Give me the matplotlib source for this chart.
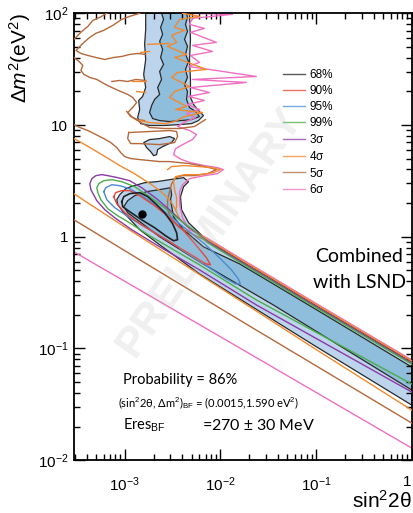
import numpy as np
import matplotlib
matplotlib.use('Agg')
import matplotlib.pyplot as plt

plt.rcParams['font.family'] = ['Liberation Sans', 'DejaVu Sans']
plt.rcParams['mathtext.fontset'] = 'custom'
plt.rcParams['mathtext.rm'] = 'Liberation Sans'
plt.rcParams['mathtext.it'] = 'Liberation Sans:italic'
plt.rcParams['mathtext.bf'] = 'Liberation Sans:bold'

# all contours are lists of (log10 sin^2 2theta, log10 dm^2)
fill_outer_band = [(-3.083, 0.332), (-3.052, 0.377), (-2.990, 0.430), (-2.938, 0.448), (-2.792, 0.484),
                   (-2.667, 0.493), (-2.531, 0.511), (-2.385, 0.529), (-2.333, 0.493), (-2.385, 0.448),
                   (-2.417, 0.359), (-2.406, 0.242), (-2.333, 0.126), (-2.146, -0.027), (-1.802, -0.206),
                   (-1.448, -0.386), (-1.010, -0.610), (0.0, -1.121), (0.0, -1.507), (-1.010, -0.978),
                   (-1.448, -0.744), (-2.219, -0.332), (-2.635, -0.072), (-2.844, 0.063), (-3.010, 0.215),
                   (-3.073, 0.287)]
fill_inner_band = [(-3.010, 0.269), (-2.969, 0.323), (-2.896, 0.368), (-2.771, 0.404), (-2.635, 0.422),
                   (-2.521, 0.439), (-2.510, 0.377), (-2.521, 0.332), (-2.490, 0.179), (-2.385, 0.063),
                   (-2.177, -0.090), (-1.802, -0.242), (-1.448, -0.422), (-1.010, -0.646), (0.0, -1.166),
                   (0.0, -1.372), (-1.448, -0.610), (-2.219, -0.224), (-2.635, 0.0), (-2.844, 0.135),
                   (-2.969, 0.215)]
fill_outer_strip = [(-2.781, 2.0), (-2.781, 1.857), (-2.792, 1.722), (-2.781, 1.587), (-2.802, 1.453),
                    (-2.781, 1.336), (-2.813, 1.256), (-2.854, 1.220), (-2.844, 1.139), (-2.865, 1.067),
                    (-2.833, 1.013), (-2.740, 0.996), (-2.583, 0.996), (-2.427, 1.004), (-2.302, 1.013),
                    (-2.229, 1.040), (-2.177, 1.085), (-2.229, 1.130), (-2.281, 1.184), (-2.313, 1.247),
                    (-2.313, 1.408), (-2.323, 1.587), (-2.313, 1.767), (-2.323, 2.0)]
fill_inner_strip = [(-2.615, 2.0), (-2.594, 1.946), (-2.625, 1.874), (-2.604, 1.812), (-2.635, 1.749),
                    (-2.604, 1.677), (-2.625, 1.605), (-2.594, 1.543), (-2.635, 1.480), (-2.615, 1.408),
                    (-2.656, 1.336), (-2.635, 1.274), (-2.688, 1.229), (-2.719, 1.175), (-2.740, 1.112),
                    (-2.708, 1.058), (-2.635, 1.040), (-2.531, 1.031), (-2.406, 1.040), (-2.302, 1.049),
                    (-2.219, 1.076), (-2.260, 1.121), (-2.323, 1.157), (-2.354, 1.229), (-2.344, 1.300),
                    (-2.375, 1.363), (-2.344, 1.426), (-2.365, 1.498), (-2.333, 1.570), (-2.365, 1.632),
                    (-2.344, 1.704), (-2.375, 1.767), (-2.344, 1.839), (-2.365, 1.901), (-2.344, 1.964),
                    (-2.354, 2.0)]
fill_blob = [(-2.802, 0.843), (-2.740, 0.870), (-2.635, 0.879), (-2.531, 0.897), (-2.479, 0.879),
             (-2.510, 0.843), (-2.604, 0.807), (-2.656, 0.780), (-2.667, 0.735), (-2.698, 0.726),
             (-2.729, 0.762), (-2.771, 0.798)]

cl68 = [(-3.031, 0.314), (-3.010, 0.359), (-2.948, 0.386), (-2.844, 0.395), (-2.760, 0.359),
        (-2.677, 0.296), (-2.583, 0.215), (-2.500, 0.117), (-2.458, 0.036), (-2.448, -0.027),
        (-2.490, -0.036), (-2.573, 0.009), (-2.688, 0.081), (-2.823, 0.152), (-2.948, 0.224),
        (-3.021, 0.269), (-3.031, 0.314)]
cl90 = [(-3.115, 0.359), (-3.094, 0.395), (-3.031, 0.413), (-2.948, 0.413), (-2.844, 0.368),
        (-2.688, 0.278), (-2.531, 0.170), (-2.375, 0.045), (-2.240, -0.090), (-2.146, -0.188),
        (-2.104, -0.251), (-2.156, -0.242), (-2.271, -0.179), (-2.427, -0.099), (-2.635, 0.009),
        (-2.844, 0.117), (-3.000, 0.215), (-3.083, 0.296), (-3.115, 0.359)]
cl95 = [(-3.219, 0.404), (-3.198, 0.439), (-3.135, 0.466), (-3.052, 0.457), (-2.948, 0.430),
        (-2.792, 0.350), (-2.635, 0.260), (-2.479, 0.152), (-2.323, 0.045), (-2.167, -0.063),
        (-2.010, -0.188), (-1.885, -0.296), (-1.813, -0.377), (-1.792, -0.422), (-1.844, -0.422),
        (-1.958, -0.368), (-2.115, -0.278), (-2.323, -0.161), (-2.531, -0.045), (-2.740, 0.063),
        (-2.948, 0.170), (-3.104, 0.260), (-3.188, 0.332), (-3.219, 0.404)]
cl99 = [(0.0, -1.141), (-1.010, -0.630), (-1.448, -0.406), (-1.802, -0.226), (-2.146, -0.047),
        (-2.271, 0.054), (-2.427, 0.152), (-2.583, 0.260), (-2.740, 0.359), (-2.896, 0.448),
        (-3.031, 0.493), (-3.135, 0.511), (-3.219, 0.502), (-3.271, 0.475), (-3.292, 0.439),
        (-3.281, 0.395), (-3.250, 0.332), (-3.177, 0.251), (-3.073, 0.188), (-2.969, 0.135),
        (-2.740, 0.009), (-2.219, -0.251), (-1.625, -0.565), (0.0, -1.318)]
sig3 = [(0.0, -1.131), (-1.010, -0.620), (-1.448, -0.396), (-1.802, -0.216), (-2.146, -0.037),
        (-2.219, 0.018), (-2.354, 0.099), (-2.510, 0.224), (-2.667, 0.341), (-2.823, 0.439),
        (-2.948, 0.502), (-3.073, 0.529), (-3.177, 0.547), (-3.240, 0.556), (-3.302, 0.547),
        (-3.344, 0.520), (-3.365, 0.475), (-3.354, 0.422), (-3.292, 0.323), (-3.208, 0.242),
        (-3.104, 0.170), (-2.927, 0.063), (-2.635, -0.090), (-2.219, -0.296), (-1.625, -0.610),
        (0.0, -1.390)]

sig4_lower = [(-3.531, 0.386), (-3.438, 0.332), (-3.260, 0.233), (-3.052, 0.117), (-2.740, -0.054),
              (-2.427, -0.224), (-1.906, -0.511), (-1.448, -0.762), (-1.010, -1.004), (0.0, -1.552)]
sig4_upper = [(-3.531, 0.879), (-3.417, 0.825), (-3.292, 0.762), (-3.188, 0.709), (-3.052, 0.637),
              (-2.917, 0.574), (-2.833, 0.529), (-2.719, 0.466), (-2.635, 0.413), (-2.563, 0.359),
              (-2.510, 0.305), (-2.469, 0.242), (-2.427, 0.161), (-2.344, 0.090), (-2.146, -0.018),
              (-1.802, -0.197), (-1.448, -0.377), (-1.010, -0.601), (0.0, -1.112)]
sig4_tongue = [(-2.552, 0.601), (-2.510, 0.628), (-2.375, 0.637), (-2.219, 0.628), (-2.094, 0.619),
               (-2.000, 0.601), (-2.073, 0.574), (-2.219, 0.556), (-2.375, 0.556), (-2.469, 0.538),
               (-2.490, 0.493), (-2.479, 0.422), (-2.458, 0.350), (-2.458, 0.269), (-2.469, 0.233)]
sig4_strip = [(-2.396, 2.0), (-2.219, 1.973), (-2.427, 1.946), (-2.479, 1.874), (-2.375, 1.848),
              (-2.510, 1.803), (-2.458, 1.740), (-2.552, 1.704), (-2.354, 1.632), (-2.479, 1.605),
              (-2.146, 1.498), (-2.448, 1.471), (-2.510, 1.426), (-2.323, 1.345), (-2.479, 1.300),
              (-2.531, 1.247), (-2.354, 1.166), (-2.469, 1.139), (-2.188, 1.112), (-2.375, 1.076),
              (-2.479, 1.031), (-2.583, 1.013), (-2.740, 1.022), (-2.844, 1.040)]
sig4_bits = [[(-2.927, 1.390), (-2.781, 1.390)],
             [(-2.875, 1.300), (-2.781, 1.291)],
             [(-2.833, 1.650), (-2.740, 1.659)],
             [(-2.760, 1.722), (-2.531, 1.731)]]

sig5_lower = [(-3.531, 0.152), (-2.740, -0.260), (-1.698, -0.798), (0.0, -1.668)]
sig5_upper = [(-3.531, 1.004), (-3.469, 0.978), (-3.385, 0.951), (-3.302, 0.915), (-3.219, 0.879),
              (-3.146, 0.843), (-3.083, 0.798), (-3.042, 0.753), (-3.000, 0.717), (-2.938, 0.700),
              (-2.844, 0.691), (-2.740, 0.682), (-2.635, 0.673), (-2.531, 0.673), (-2.427, 0.664),
              (-2.323, 0.655), (-2.219, 0.637), (-2.115, 0.619), (-2.042, 0.601), (-2.135, 0.565),
              (-2.271, 0.547), (-2.396, 0.547), (-2.469, 0.529), (-2.510, 0.475), (-2.531, 0.404),
              (-2.552, 0.332), (-2.552, 0.242), (-2.510, 0.152), (-2.427, 0.081), (-2.323, 0.036),
              (-2.146, -0.036), (-1.802, -0.215), (-1.448, -0.395), (-1.010, -0.619), (0.0, -1.130)]
sig5_loop = [(-2.958, 0.933), (-2.740, 0.942), (-2.531, 0.951), (-2.458, 0.942), (-2.448, 0.897),
             (-2.479, 0.843), (-2.635, 0.825), (-2.844, 0.834), (-2.938, 0.834), (-2.969, 0.879),
             (-2.958, 0.933)]
sig5_strip = [(-2.979, 1.121), (-2.917, 1.067), (-2.833, 1.022), (-2.740, 0.978), (-2.583, 0.969),
              (-2.427, 0.969), (-2.271, 0.987), (-2.156, 1.049)]
sig5_topleft = [
    [(-3.188, 2.0), (-3.260, 1.964), (-3.333, 1.937), (-3.385, 1.883), (-3.448, 1.839),
     (-3.490, 1.803), (-3.531, 1.767)],
    [(-2.844, 2.0), (-2.948, 1.973), (-3.031, 1.946), (-3.125, 1.892), (-3.219, 1.848),
     (-3.302, 1.821), (-3.365, 1.785), (-3.427, 1.740), (-3.479, 1.695), (-3.510, 1.668),
     (-3.458, 1.641), (-3.385, 1.623), (-3.302, 1.605), (-3.208, 1.587), (-3.115, 1.605),
     (-3.031, 1.614), (-2.948, 1.632), (-2.865, 1.641), (-2.781, 1.632)],
    [(-3.531, 1.605), (-3.479, 1.570), (-3.438, 1.534), (-3.458, 1.489), (-3.427, 1.453),
     (-3.365, 1.426), (-3.292, 1.408), (-3.219, 1.372), (-3.135, 1.336), (-3.042, 1.300),
     (-2.969, 1.274), (-2.917, 1.247), (-2.875, 1.202), (-2.917, 1.157), (-2.969, 1.112),
     (-2.938, 1.076), (-2.865, 1.049), (-2.792, 1.040)],
    [(-3.135, 1.390), (-3.052, 1.399), (-2.969, 1.390), (-2.885, 1.408), (-2.781, 1.399)]]

sig6_lower = [(-3.531, -0.135), (-1.906, -0.942), (0.0, -1.892)]
sig6_upper = [(-2.323, 2.0), (-1.875, 1.991), (-2.292, 1.955), (-2.323, 1.901), (-2.167, 1.865),
              (-2.313, 1.830), (-2.042, 1.740), (-2.292, 1.713), (-2.083, 1.659), (-2.313, 1.623),
              (-2.219, 1.561), (-2.333, 1.525), (-1.625, 1.435), (-2.292, 1.408), (-1.729, 1.381),
              (-2.313, 1.336), (-2.115, 1.291), (-2.333, 1.256), (-2.167, 1.220), (-2.344, 1.184),
              (-2.219, 1.139), (-2.354, 1.103), (-2.260, 1.067), (-2.385, 1.022), (-2.448, 0.987),
              (-2.323, 0.951), (-2.250, 0.915), (-2.292, 0.870), (-2.375, 0.834), (-2.469, 0.789),
              (-2.490, 0.735), (-2.406, 0.691), (-2.313, 0.664), (-2.167, 0.637), (-2.031, 0.619),
              (-1.969, 0.601), (-2.031, 0.565), (-2.167, 0.547), (-2.323, 0.520), (-2.396, 0.466),
              (-2.427, 0.404), (-2.427, 0.287), (-2.396, 0.170), (-2.323, 0.063), (-2.146, -0.009),
              (-1.802, -0.188), (-1.448, -0.368), (-1.010, -0.592), (0.0, -1.103)]

best_fit = (0.0015, 1.59)

legend_labels = ['68%', '90%', '95%', '99%', r'3$\mathrm{\sigma}$', r'4$\mathrm{\sigma}$',
                 r'5$\mathrm{\sigma}$', r'6$\mathrm{\sigma}$']
colors = ['#222222', '#e8433b', '#4b8bd1', '#4aad4a', '#8b3aa6', '#f2892e', '#b4693c', '#ef70c0']
light_blue = '#bcd5ec'
dark_blue = '#8fbddc'


def xy(pts):
    a = np.array(pts)
    return 10 ** a[:, 0], 10 ** a[:, 1]


fig = plt.figure(figsize=(4.13, 5.13), dpi=100)
ax = fig.add_axes([0.179, 0.103, 0.818, 0.871])
ax.set_xscale('log')
ax.set_yscale('log')

for poly, col in [(fill_outer_band, light_blue), (fill_outer_strip, light_blue), (fill_blob, light_blue),
                  (fill_inner_band, dark_blue), (fill_inner_strip, dark_blue)]:
    x, y = xy(poly)
    ax.fill(x, y, facecolor=col, edgecolor='#2a2a2a', lw=0.9, zorder=1)

lw = 1.0
# 6 sigma
for pts in [sig6_lower, sig6_upper]:
    ax.plot(*xy(pts), color=colors[7], lw=lw, zorder=2)
# 5 sigma
for pts in [sig5_lower, sig5_upper, sig5_loop, sig5_strip] + sig5_topleft:
    ax.plot(*xy(pts), color=colors[6], lw=lw, zorder=3)
# 4 sigma
for pts in [sig4_lower, sig4_upper, sig4_tongue, sig4_strip] + sig4_bits:
    ax.plot(*xy(pts), color=colors[5], lw=lw, zorder=4)
ax.plot(*xy(sig3), color=colors[4], lw=lw, zorder=5)
ax.plot(*xy(cl99), color=colors[3], lw=lw, zorder=6)
ax.plot(*xy(cl95), color=colors[2], lw=lw, zorder=7)
ax.plot(*xy(cl90), color=colors[1], lw=lw, zorder=8)
ax.plot(*xy(cl68), color=colors[0], lw=1.2, zorder=9)
ax.plot(best_fit[0], best_fit[1], 'o', color='black', ms=5, zorder=10)

handles = [plt.Line2D([], [], color=c, lw=1.0, alpha=0.75) for c in colors]
ax.legend(handles, legend_labels, loc='upper left', bbox_to_anchor=(0.618, 0.875), frameon=False,
          fontsize=8.5, handlelength=1.9, handletextpad=0.35, labelspacing=0.33,
          borderpad=0, borderaxespad=0)

ax.set_xlim(10 ** -3.531, 1)
ax.set_ylim(1e-2, 1e2)
ax.set_xticks([1e-3, 1e-2, 1e-1, 1])
ax.set_xticklabels(['$10^{-3}$', '$10^{-2}$', '$10^{-1}$', '1'])
ax.get_xticklabels()[-1].set_horizontalalignment('right')
ax.set_yticks([1e-2, 1e-1, 1, 10, 100])
ax.set_yticklabels(['$10^{-2}$', '$10^{-1}$', '1', '10', '$10^{2}$'])
ax.tick_params(which='both', direction='in', top=True, right=True, width=1)
ax.tick_params(which='major', length=8, labelsize=11)
ax.tick_params(which='minor', length=4)
ax.tick_params(axis='x', which='major', pad=11)
ax.tick_params(axis='y', which='major', pad=4)
for s in ax.spines.values():
    s.set_linewidth(1.3)

fig.text(0.048, 0.975, r'$\Delta m^2$(eV$^2$)', rotation=90, ha='center', va='top', fontsize=15)
fig.text(0.996, 0.002, r'sin$^2$2θ', ha='right', va='bottom', fontsize=15)

ax.text(0.845, 0.455, 'Combined', transform=ax.transAxes, ha='center', va='center',
        fontsize=14, family=['Lato', 'DejaVu Sans'])
ax.text(0.845, 0.397, 'with LSND', transform=ax.transAxes, ha='center', va='center',
        fontsize=14, family=['Lato', 'DejaVu Sans'])

ax.text(0.145, 0.18, 'Probability = 86%', transform=ax.transAxes, ha='left', va='center',
        fontsize=10.5, family=['Lato', 'DejaVu Sans'])
ax.text(0.13, 0.128, r'(sin$^2$2θ, Δm$^2$)$_{\mathrm{BF}}$ = (0.0015,1.590 eV$^2$)', transform=ax.transAxes,
        ha='left', va='center', fontsize=8, family=['Lato', 'DejaVu Sans'])
ax.text(0.145, 0.077, r'Eres$_{\mathrm{BF}}$', transform=ax.transAxes, ha='left', va='center',
        fontsize=10.5, family=['Lato', 'DejaVu Sans'])
ax.text(0.378, 0.077, r'=270 $\pm$ 30 MeV', transform=ax.transAxes, ha='left', va='center',
        fontsize=11.5, family=['Lato', 'DejaVu Sans'])

ax.text(0.4, 0.51, 'PRELIMINARY', transform=ax.transAxes, ha='center', va='center',
        rotation=55, fontsize=31, fontweight='bold', color='#b5b5b5', alpha=0.2, zorder=20)

fig.savefig('out.png', dpi=100)
